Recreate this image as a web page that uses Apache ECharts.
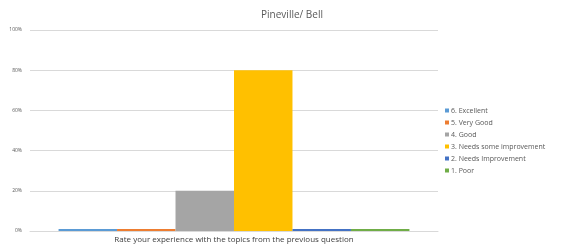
<!DOCTYPE html>
<html><head><meta charset="utf-8">
<script src="https://cdn.jsdelivr.net/npm/echarts@6/dist/echarts.min.js"></script>
<style>html,body{margin:0;padding:0;background:#fff}#c{width:563px;height:247px}</style>
</head><body><div id="c"></div>
<script>
const categories = ['Rate your experience with the topics from the previous question'];
const seriesNames = ['6. Excellent','5. Very Good','4. Good','3. Needs some improvement','2. Needs Improvement','1. Poor'];
const seriesValues = [0, 0, 20, 80, 0, 0];
const seriesColors = ['#5B9BD5','#ED7D31','#A5A5A5','#FFC000','#4472C4','#70AD47'];
const yTicks = [0, 20, 40, 60, 80, 100];

const chart = echarts.init(document.getElementById('c'), null, {renderer:'canvas'});
chart.setOption({
  animation:false,
  backgroundColor:'#fff',
  title:{text:'Pineville/ Bell', left:287, top:5, textAlign:'center',
    textStyle:{fontFamily:'Open Sans', fontSize:10, fontWeight:'normal', color:'#595959'}},
  grid:{left:30, right:125, top:30, bottom:16},
  legend:{orient:'vertical', left:440, top:102, itemWidth:4, itemHeight:4, itemGap:5, icon:'rect',
    textStyle:{fontFamily:'Open Sans', fontSize:7, color:'#595959', padding:[0,0,0,-3]},
    data:seriesNames},
  xAxis:{type:'category', data:categories,
    axisLine:{lineStyle:{color:'#d9d9d9'}}, axisTick:{show:false},
    axisLabel:{fontFamily:'Open Sans', fontSize:8, color:'#404040', margin:5}},
  yAxis:{type:'value', min:0, max:100, interval:20,
    axisLabel:{formatter:v=>v+'%', fontFamily:'Open Sans', fontSize:5, color:'#595959', margin:8},
    axisLine:{show:false}, axisTick:{show:false},
    splitLine:{lineStyle:{color:'#d9d9d9', width:1}}},
  series: seriesNames.map((n,i)=>({
    name:n, type:'bar', data:[seriesValues[i]], barGap:'0%', barCategoryGap:'14%',
    barMinHeight:2, itemStyle:{color:seriesColors[i]}
  }))
});
</script></body></html>
